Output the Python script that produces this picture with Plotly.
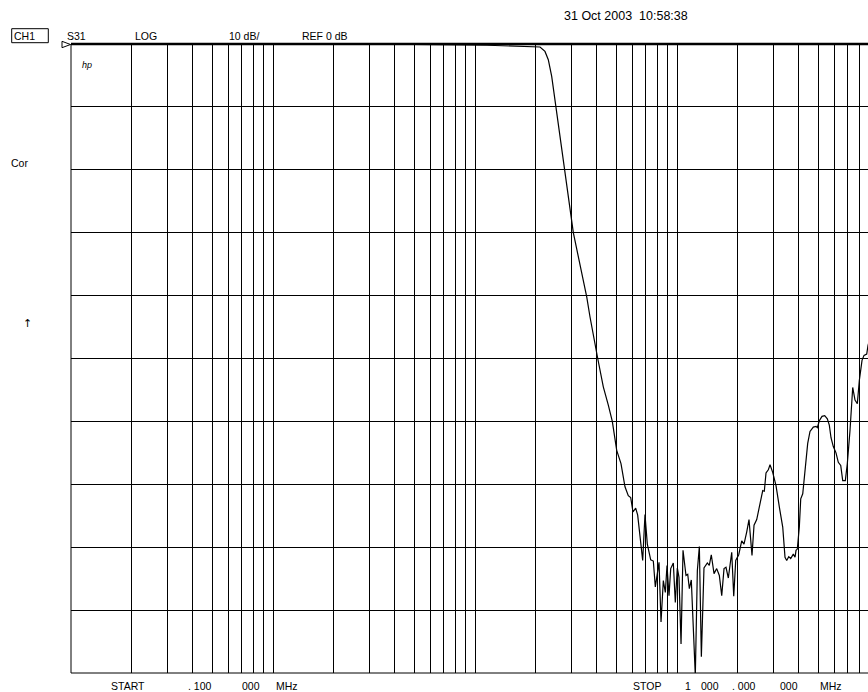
import plotly.graph_objects as go

# ---- trace data: S31 magnitude (dB) vs frequency (MHz) ----
freq_mhz = [
    0.1, 1.0, 5.0, 11.47, 14.91, 18.72, 20.98, 22.20, 23.06, 23.97,
    25.18, 27.68, 30.67, 35.73, 37.10, 40.51, 43.17, 45.70, 47.83, 50.29,
    52.81, 55.27, 57.39, 58.98, 60.55, 62.43, 63.87, 67.62, 69.42, 71.29,
    74.10, 76.34, 78.10, 81.46, 83.34, 85.56, 87.54, 89.22, 91.28, 93.07,
    95.88, 98.08, 100.35, 102.3, 104.7, 107.1, 110.8, 113.0, 115.1, 117.7,
    123.2, 126.1, 129.0, 132.0, 136.0, 141.3, 144.5, 147.8, 152.5, 157.2,
    162.0, 166.5, 170.9, 174.8, 179.5, 186.6, 190.9, 195.3, 202.1, 209.1,
    214.6, 221.3, 227.2, 235.1, 240.6, 248.1, 257.6, 265.7, 270.5, 275.8,
    283.1, 288.7, 297.7, 309.1, 321.0, 333.7, 342.5, 349.2, 357.3, 365.5,
    376.5, 384.0, 388.3, 394.1, 403.2, 409.7, 419.2, 430.3, 443.6, 455.4,
    472.9, 487.7, 495.0, 506.4, 522.2, 538.5, 554.8, 567.5, 578.6, 594.0,
    612.5, 628.8, 646.3, 661.2, 681.2, 696.9, 718.6, 741.0, 760.7, 781.0,
    799.0, 823.9, 842.9, 869.4, 882.3, 944.6, 1000.0,
]
s31_db = [
    0.0, 0.0, -0.05, -0.2, -0.3, -0.38, -0.48, -1.18, -2.5, -5.16,
    -10.1, -20.0, -30.0, -40.2, -43.4, -50.0, -54.5, -57.4, -60.0, -64.6,
    -66.7, -70.4, -71.8, -72.1, -74.4, -73.8, -74.9, -82.1, -74.8, -79.5,
    -82.0, -82.2, -86.3, -82.4, -91.9, -85.3, -87.2, -82.9, -87.7, -83.4,
    -82.5, -88.8, -83.3, -84.8, -95.4, -80.5, -84.5, -84.3, -86.6, -85.2,
    -100.4, -83.7, -79.9, -97.4, -83.3, -82.5, -82.9, -81.2, -84.2, -83.4,
    -84.5, -87.7, -83.4, -83.2, -84.9, -80.8, -87.8, -82.1, -81.2, -79.0,
    -79.5, -77.6, -75.6, -81.3, -76.5, -75.6, -73.3, -71.0, -71.1, -68.2,
    -67.7, -66.9, -68.1, -70.2, -73.6, -76.8, -81.6, -82.1, -81.5, -81.8,
    -81.1, -81.6, -80.5, -80.3, -76.8, -72.3, -71.5, -67.8, -63.5, -61.6,
    -60.9, -60.8, -61.0, -59.9, -59.2, -59.1, -59.6, -60.6, -62.6, -64.0,
    -65.0, -66.5, -67.0, -69.4, -69.4, -66.7, -61.4, -54.6, -56.6, -57.2,
    -53.5, -50.3, -49.5, -49.3, -47.9, -44.7, -42.5,
]

# log grid: 1..9 x each decade from 0.1 MHz to 1000 MHz
grid_mhz = [d * 10.0 ** k for k in range(-1, 3) for d in range(1, 10)] + [1000.0]

header_texts = ["S31", "LOG", "10 dB/", "REF 0 dB"]
date_text = "31 Oct 2003  10:58:38"
start_texts = ["START", ". 100", "000", "MHz"]
stop_texts = ["STOP", "1", "000", ". 000", "000", "MHz"]

W, H = 868, 692
L, T, B = 71, 44, 19
PW, PH = W - L, H - T - B


def px(x):
    return (x - L) / PW


def py(y):
    return (H - B - y) / PH


FONT = "Liberation Sans, Arial, sans-serif"

fig = go.Figure()
fig.add_trace(go.Scatter(
    x=freq_mhz, y=s31_db, mode="lines",
    line=dict(color="black", width=1.2), showlegend=False, hoverinfo="skip",
))

fig.update_layout(
    width=W, height=H,
    margin=dict(l=L, r=0, t=T, b=B),
    paper_bgcolor="white", plot_bgcolor="white",
    xaxis=dict(type="log", range=[-1, 2.9455], tickvals=grid_mhz,
               showticklabels=False, ticks="", showgrid=True,
               gridcolor="black", gridwidth=1, zeroline=False, showline=False),
    yaxis=dict(range=[-100, 0], dtick=10, showticklabels=False, ticks="",
               showgrid=True, gridcolor="black", gridwidth=1,
               zeroline=False, showline=False),
)

shapes = [
    dict(type="line", xref="paper", yref="paper", x0=0, x1=1, y0=1, y1=1,
         line=dict(color="black", width=2.5)),
    dict(type="line", xref="paper", yref="paper", x0=0, x1=1, y0=0, y1=0,
         line=dict(color="black", width=1)),
    dict(type="line", xref="paper", yref="paper", x0=0, x1=0, y0=0, y1=1,
         line=dict(color="black", width=1)),
    # CH1 box
    dict(type="rect", xref="paper", yref="paper",
         x0=px(11.7), x1=px(48.3), y0=py(42.7), y1=py(28.7),
         line=dict(color="black", width=1)),
    # reference position triangle
    dict(type="path", xref="paper", yref="paper",
         path=f"M {px(62)},{py(41.3)} L {px(62)},{py(47.7)} L {px(70.5)},{py(44.5)} Z",
         line=dict(color="black", width=1)),
]

annots = []


def add_text(text, x, y, size=10.5, anchor="left", family=FONT):
    annots.append(dict(text=text, xref="paper", yref="paper", x=px(x), y=py(y),
                       xanchor=anchor, yanchor="middle", showarrow=False,
                       font=dict(family=family, size=size, color="black"),
                       borderpad=0))


add_text("CH1", 12.5, 35.7)
for t, x in zip(header_texts, [66, 133.5, 227.5, 301]):
    add_text(t, x, 35.7)
add_text(date_text, 562.5, 16, size=12.5)
add_text("<i>hp</i>", 81, 65, size=9)
add_text("Cor", 9.5, 162.5)
add_text("↑", 21.5, 323, size=11, family="DejaVu Sans")
for t, x in zip(start_texts, [109.5, 186.5, 240.5, 274.5]):
    add_text(t, x, 686)
for t, x in zip(stop_texts, [631.5, 684, 700, 730.5, 778.5, 818.5]):
    add_text(t, x, 686)

fig.update_layout(shapes=shapes, annotations=annots)
fig.write_html(
    "out.html",
    config={"displayModeBar": False},
    post_script=(
        "document.body.style.margin='0';"
        "document.body.style.overflow='hidden';"
        "document.documentElement.style.overflow='hidden';"
    ),
)
